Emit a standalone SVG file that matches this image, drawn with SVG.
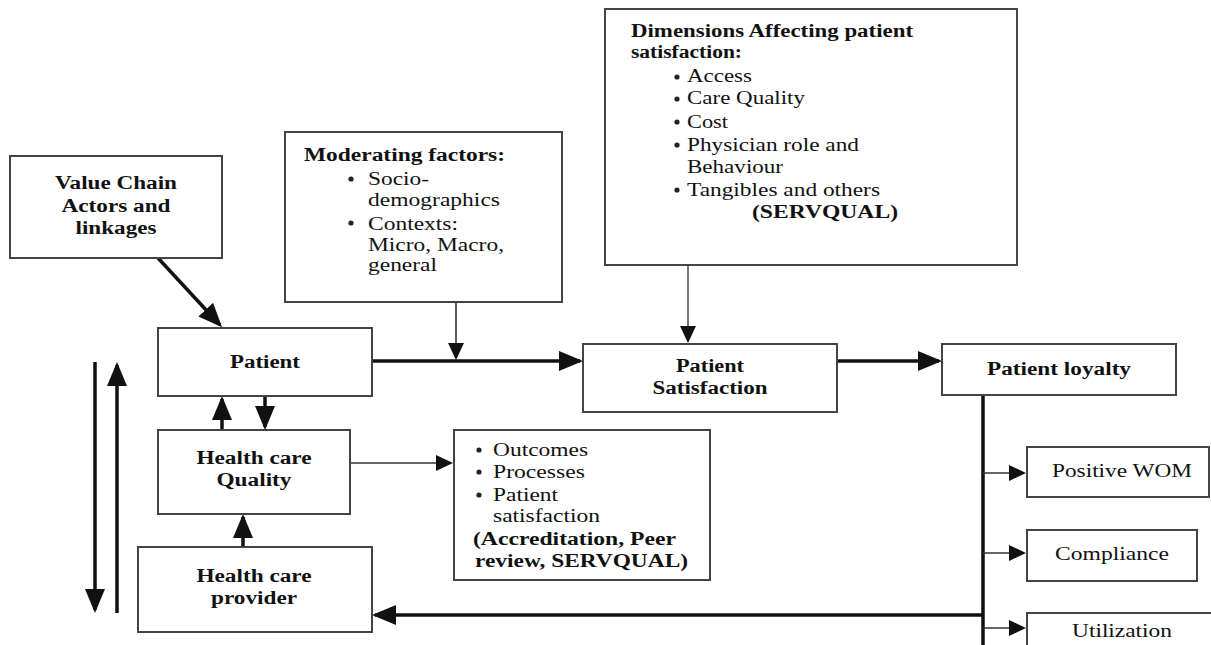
<svg xmlns="http://www.w3.org/2000/svg" width="1211" height="645" viewBox="0 0 1211 645">
<style>
.box{fill:#fff;stroke:#444;stroke-width:2}
.b{font-family:"Liberation Serif","Times New Roman",serif;font-weight:bold;font-size:18px;fill:#111}
.r{font-family:"Liberation Serif","Times New Roman",serif;font-size:18.5px;fill:#111}
.c{text-anchor:middle}
.thick{stroke:#111;stroke-width:3.5;fill:none}
.thin{stroke:#333;stroke-width:1.6;fill:none}
.gray{stroke:#777;stroke-width:2;fill:none}
.dot{fill:#222}
</style>
<defs>
<marker id="big" markerUnits="userSpaceOnUse" markerWidth="24" markerHeight="22" refX="21" refY="10" orient="auto">
<path d="M0,0 L24,10 L0,20 z" fill="#111"/>
</marker>
<marker id="small" markerUnits="userSpaceOnUse" markerWidth="18" markerHeight="18" refX="15" refY="8" orient="auto">
<path d="M0,0 L17,8 L0,16 z" fill="#111"/>
</marker>
</defs>
<rect width="1211" height="645" fill="#fff"/>

<g id="connectors">
<line class="thick" x1="158" y1="258" x2="220" y2="325" marker-end="url(#big)"/>
<line class="thick" x1="372" y1="361" x2="580" y2="361" marker-end="url(#big)"/>
<line class="thin" x1="456" y1="302" x2="456" y2="358" marker-end="url(#small)"/>
<line class="gray" x1="688" y1="265" x2="688" y2="341" marker-end="url(#small)"/>
<line class="thick" x1="837" y1="361" x2="939" y2="361" marker-end="url(#big)"/>
<line class="thick" x1="983" y1="395" x2="983" y2="645"/>
<line class="thick" x1="983" y1="615" x2="375" y2="615" marker-end="url(#big)"/>
<line class="thin" x1="983" y1="473" x2="1024" y2="473" marker-end="url(#small)"/>
<line class="thin" x1="983" y1="553" x2="1024" y2="553" marker-end="url(#small)"/>
<line class="thin" x1="983" y1="628" x2="1024" y2="628" marker-end="url(#small)"/>
<line class="thin" x1="350" y1="463" x2="451" y2="463" marker-end="url(#small)"/>
<line class="thick" x1="222" y1="430" x2="222" y2="399" marker-end="url(#big)"/>
<line class="thick" x1="265" y1="396" x2="265" y2="427" marker-end="url(#big)"/>
<line class="thick" x1="243" y1="547" x2="243" y2="517" marker-end="url(#big)"/>
<line class="thick" x1="95" y1="362" x2="95" y2="610" marker-end="url(#big)"/>
<line class="thick" x1="117" y1="613" x2="117" y2="365" marker-end="url(#big)"/>
</g>

<g id="value-chain">
<rect class="box" x="10" y="156" width="212" height="102"/>
<text class="b c" x="116" y="189" textLength="122" lengthAdjust="spacingAndGlyphs">Value Chain</text>
<text class="b c" x="116" y="212" textLength="109" lengthAdjust="spacingAndGlyphs">Actors and</text>
<text class="b c" x="116" y="234" textLength="81" lengthAdjust="spacingAndGlyphs">linkages</text>
</g>

<g id="moderating">
<rect class="box" x="285" y="132" width="277" height="170"/>
<text class="b" x="304" y="161" textLength="201" lengthAdjust="spacingAndGlyphs">Moderating factors:</text>
<circle class="dot" cx="351" cy="179" r="2.6"/>
<text class="r" x="368" y="185" textLength="61" lengthAdjust="spacingAndGlyphs">Socio-</text>
<text class="r" x="368" y="206" textLength="132" lengthAdjust="spacingAndGlyphs">demographics</text>
<circle class="dot" cx="351" cy="223" r="2.6"/>
<text class="r" x="368" y="230" textLength="90" lengthAdjust="spacingAndGlyphs">Contexts:</text>
<text class="r" x="368" y="251" textLength="136" lengthAdjust="spacingAndGlyphs">Micro, Macro,</text>
<text class="r" x="368" y="271" textLength="69" lengthAdjust="spacingAndGlyphs">general</text>
</g>

<g id="dimensions">
<rect class="box" x="605" y="9" width="412" height="256"/>
<text class="b" x="631" y="37" textLength="282" lengthAdjust="spacingAndGlyphs">Dimensions Affecting patient</text>
<text class="b" x="631" y="58" textLength="111" lengthAdjust="spacingAndGlyphs">satisfaction:</text>
<circle class="dot" cx="677" cy="77" r="2.6"/>
<text class="r" x="687" y="82" textLength="65" lengthAdjust="spacingAndGlyphs">Access</text>
<circle class="dot" cx="677" cy="99" r="2.6"/>
<text class="r" x="687" y="104" textLength="118" lengthAdjust="spacingAndGlyphs">Care Quality</text>
<circle class="dot" cx="677" cy="122" r="2.6"/>
<text class="r" x="687" y="128" textLength="41" lengthAdjust="spacingAndGlyphs">Cost</text>
<circle class="dot" cx="677" cy="145" r="2.6"/>
<text class="r" x="687" y="151" textLength="172" lengthAdjust="spacingAndGlyphs">Physician role and</text>
<text class="r" x="687" y="173" textLength="96" lengthAdjust="spacingAndGlyphs">Behaviour</text>
<circle class="dot" cx="677" cy="190" r="2.6"/>
<text class="r" x="687" y="196" textLength="193" lengthAdjust="spacingAndGlyphs">Tangibles and others</text>
<text class="b" x="752" y="218" textLength="146" lengthAdjust="spacingAndGlyphs">(SERVQUAL)</text>
</g>

<g id="patient">
<rect class="box" x="158" y="328" width="214" height="68"/>
<text class="b c" x="265" y="368" textLength="70" lengthAdjust="spacingAndGlyphs">Patient</text>
</g>

<g id="patient-satisfaction">
<rect class="box" x="583" y="344" width="254" height="68"/>
<text class="b c" x="710" y="372" textLength="68" lengthAdjust="spacingAndGlyphs">Patient</text>
<text class="b c" x="710" y="394" textLength="115" lengthAdjust="spacingAndGlyphs">Satisfaction</text>
</g>

<g id="patient-loyalty">
<rect class="box" x="942" y="344" width="234" height="51"/>
<text class="b c" x="1059" y="375" textLength="144" lengthAdjust="spacingAndGlyphs">Patient loyalty</text>
</g>

<g id="quality">
<rect class="box" x="158" y="430" width="192" height="84"/>
<text class="b c" x="254" y="464" textLength="115" lengthAdjust="spacingAndGlyphs">Health care</text>
<text class="b c" x="254" y="486" textLength="75" lengthAdjust="spacingAndGlyphs">Quality</text>
</g>

<g id="provider">
<rect class="box" x="138" y="547" width="234" height="85"/>
<text class="b c" x="254" y="582" textLength="115" lengthAdjust="spacingAndGlyphs">Health care</text>
<text class="b c" x="254" y="604" textLength="86" lengthAdjust="spacingAndGlyphs">provider</text>
</g>

<g id="outcomes">
<rect class="box" x="454" y="430" width="256" height="150"/>
<circle class="dot" cx="479" cy="450" r="2.6"/>
<text class="r" x="493" y="456" textLength="95" lengthAdjust="spacingAndGlyphs">Outcomes</text>
<circle class="dot" cx="479" cy="472" r="2.6"/>
<text class="r" x="493" y="478" textLength="92" lengthAdjust="spacingAndGlyphs">Processes</text>
<circle class="dot" cx="479" cy="495" r="2.6"/>
<text class="r" x="493" y="501" textLength="65" lengthAdjust="spacingAndGlyphs">Patient</text>
<text class="r" x="493" y="522" textLength="107" lengthAdjust="spacingAndGlyphs">satisfaction</text>
<text class="b" x="473" y="545" textLength="203" lengthAdjust="spacingAndGlyphs">(Accreditation, Peer</text>
<text class="b" x="475" y="567" textLength="213" lengthAdjust="spacingAndGlyphs">review, SERVQUAL)</text>
</g>

<g id="positive-wom">
<rect class="box" x="1027" y="447" width="182" height="50"/>
<text class="r c" x="1122" y="477" textLength="140" lengthAdjust="spacingAndGlyphs">Positive WOM</text>
</g>

<g id="compliance">
<rect class="box" x="1027" y="530" width="170" height="51"/>
<text class="r c" x="1112" y="560" textLength="114" lengthAdjust="spacingAndGlyphs">Compliance</text>
</g>

<g id="utilization">
<rect class="box" x="1027" y="613" width="200" height="50"/>
<text class="r c" x="1122" y="637" textLength="100" lengthAdjust="spacingAndGlyphs">Utilization</text>
</g>
</svg>
